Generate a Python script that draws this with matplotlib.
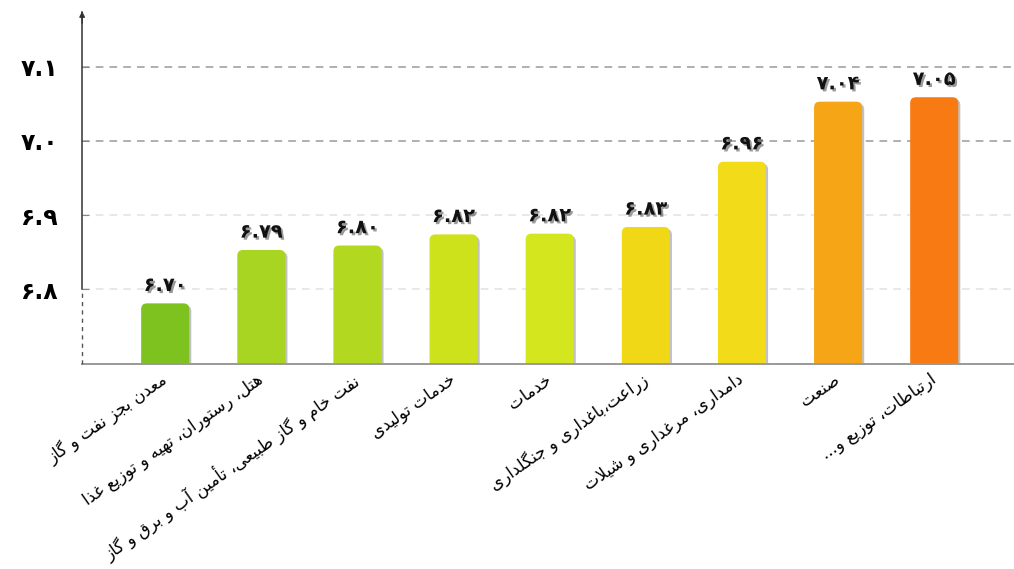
import matplotlib
matplotlib.use('Agg')
import matplotlib.pyplot as plt
import matplotlib.patheffects as pe
from matplotlib.patches import FancyBboxPatch

# sectors, left to right
sectors = [
    'معدن بجز نفت و گاز',
    'هتل، رستوران، تهیه و توزیع غذا',
    'نفت خام و گاز طبیعی، تأمین آب و برق و گاز',
    'خدمات تولیدی',
    'خدمات',
    'زراعت،باغداری و جنگلداری',
    'دامداری، مرغداری و شیلات',
    'صنعت',
    'ارتباطات، توزیع و...',
]
# bar heights
heights = [6.781, 6.853, 6.859, 6.874, 6.875, 6.884, 6.972, 7.053, 7.059]
# numbers printed above the bars
printed = [6.70, 6.79, 6.80, 6.82, 6.82, 6.83, 6.96, 7.04, 7.05]
yticks = [6.8, 6.9, 7.0, 7.1]

colors = ['#7DC21E', '#A8D521', '#B2D91F', '#CEE21C', '#D4E61D',
          '#F1D817', '#F2DB18', '#F6A517', '#F87A12']

FA_DIGITS = str.maketrans('0123456789', '۰۱۲۳۴۵۶۷۸۹')

DUAL = {'ب': 0xFE8F, 'ت': 0xFE95, 'ج': 0xFE9D, 'خ': 0xFEA5, 'س': 0xFEB1,
        'ش': 0xFEB5, 'ص': 0xFEB9, 'ط': 0xFEC1, 'ع': 0xFEC9, 'غ': 0xFECD,
        'ف': 0xFED1, 'ق': 0xFED5, 'ل': 0xFEDD, 'م': 0xFEE1, 'ن': 0xFEE5,
        'ه': 0xFEE9, 'ی': 0xFBFC, 'ي': 0xFEF1, 'گ': 0xFB92, 'ک': 0xFB8E,
        'ك': 0xFED9}
RIGHT = {'ا': 0xFE8D, 'آ': 0xFE81, 'أ': 0xFE83, 'د': 0xFEA9, 'ذ': 0xFEAB,
         'ر': 0xFEAD, 'ز': 0xFEAF, 'و': 0xFEED}
LAM_ALEF = {'ا': 0xFEFB, 'آ': 0xFEF5, 'أ': 0xFEF7}


def fa_num(v, nd):
    return f'{v:.{nd}f}'.translate(FA_DIGITS)


def shape(text):
    # join arabic letters into their contextual forms, then lay out right to left
    out = []
    i = 0
    n = len(text)
    while i < n:
        c = text[i]
        if c not in DUAL and c not in RIGHT:
            out.append(c)
            i += 1
            continue
        prev_joins = i > 0 and text[i - 1] in DUAL
        nxt = text[i + 1] if i + 1 < n else ''
        if c == 'ل' and nxt in LAM_ALEF:
            out.append(chr(LAM_ALEF[nxt] + (1 if prev_joins else 0)))
            i += 2
            continue
        if c in RIGHT:
            out.append(chr(RIGHT[c] + (1 if prev_joins else 0)))
        else:
            next_joins = nxt in DUAL or nxt in RIGHT
            b = DUAL[c]
            if prev_joins and next_joins:
                out.append(chr(b + 3))
            elif prev_joins:
                out.append(chr(b + 1))
            elif next_joins:
                out.append(chr(b + 2))
            else:
                out.append(chr(b))
        i += 1
    return ''.join(reversed(out))


plt.rcParams['font.family'] = ['DejaVu Sans']

fig = plt.figure(figsize=(10.14, 5.69), dpi=100)
ax = fig.add_axes([0.081, 0.360, 0.919, 0.619])
xmin, xmax = -0.864, 8.83
ymin, ymax = 6.699, 7.174
ax.set_xlim(xmin, xmax)
ax.set_ylim(ymin, ymax)

x = list(range(len(sectors)))

# dashed grid, the two lower lines are much fainter
for t in yticks:
    gc = '#9a9a9a' if t >= 7.0 else '#e2e2e2'
    ax.axhline(t, color=gc, lw=1.1, ls=(0, (5, 4)), zorder=0)

# plain bars first, then swap them for rounded ones
bars = ax.bar(x, [h - ymin + 0.02 for h in heights], width=0.5,
              bottom=ymin - 0.02)
w_px = fig.get_figwidth() * fig.dpi * 0.919 / (xmax - xmin)
h_px = fig.get_figheight() * fig.dpi * 0.619 / (ymax - ymin)
asp = w_px / h_px
for b, col in zip(bars, colors):
    p = FancyBboxPatch((b.get_x(), b.get_y()), b.get_width(), b.get_height(),
                       boxstyle='round,pad=0,rounding_size=0.06',
                       mutation_aspect=asp, facecolor=col, edgecolor='none',
                       zorder=2)
    p.set_path_effects([pe.SimplePatchShadow(offset=(1.5, -1.5),
                                             shadow_rgbFace='#777777', alpha=0.45),
                        pe.Normal()])
    ax.add_patch(p)
    b.remove()

for xi, h, v in zip(x, heights, printed):
    ax.annotate(fa_num(v, 2), (xi, h), xytext=(0, 6), textcoords='offset points',
                ha='center', va='bottom', fontsize=14, fontweight='bold',
                color='#111111', zorder=3,
                path_effects=[pe.SimplePatchShadow(offset=(1.5, -1.5), alpha=0.4),
                              pe.Normal()])

ax.set_yticks(yticks, [fa_num(t, 1) for t in yticks], fontsize=17,
              fontweight='bold')
ax.tick_params(axis='y', direction='in', length=5, color='#888888', pad=17)

ax.set_xticks(x, [shape(s) for s in sectors], rotation=35, ha='right',
              va='center', rotation_mode='anchor', fontsize=12)
ax.tick_params(axis='x', length=0, pad=10)

for s in ['left', 'top', 'right']:
    ax.spines[s].set_visible(False)
ax.spines['bottom'].set_color('#999999')
ax.spines['bottom'].set_linewidth(1.4)

# vertical axis: solid above 6.8, dashed break below, arrow on top
tr = ax.get_yaxis_transform()
ax.plot([0, 0], [6.8, ymax], transform=tr, color='#333333', lw=1.1,
        clip_on=False, zorder=4)
ax.plot([0, 0], [ymin, 6.8], transform=tr, color='#555555', lw=1.0,
        ls=(0, (3, 3)), clip_on=False, zorder=4)
ax.annotate('', xy=(0, 1.01), xytext=(0, 0.96), xycoords='axes fraction',
            arrowprops=dict(arrowstyle='-|>', color='#333333', lw=1,
                            mutation_scale=8))

fig.savefig('out.png', dpi=100)
